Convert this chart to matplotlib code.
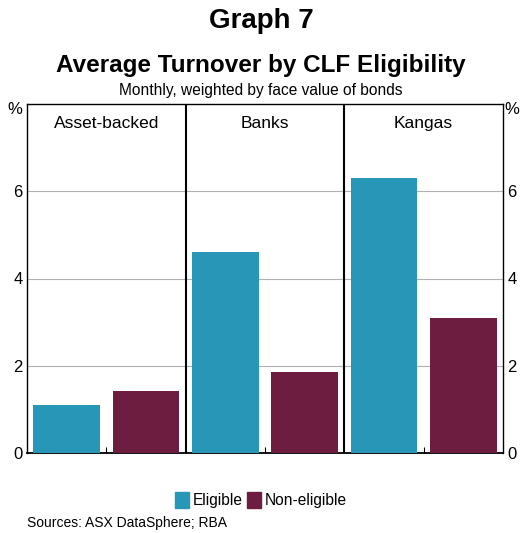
import numpy as np
import matplotlib.pyplot as plt
from matplotlib.patches import Patch

plt.rcParams['font.family'] = ['Liberation Sans', 'DejaVu Sans']

panels = ['Asset-backed', 'Banks', 'Kangas']
eligible = [1.1, 4.6, 6.3]
non_eligible = [1.42, 1.85, 3.1]
yticks = [0, 2, 4, 6]

teal = '#2896b6'
maroon = '#6c1d40'

fig = plt.figure(figsize=(5.22, 5.33), dpi=100)
ax = fig.add_axes([27 / 522, 80 / 533, 476 / 522, 349 / 533])

x = np.arange(len(panels)) * 2
w = 0.84
ax.bar(x + 0.5, eligible, width=w, color=teal, zorder=3)
ax.bar(x + 1.5, non_eligible, width=w, color=maroon, zorder=3)

ax.set_xlim(0, 6)
ax.set_ylim(0, 8)
for y in yticks[1:]:
    ax.axhline(y, color='#b0b0b0', lw=0.8, zorder=1)
for i in range(1, len(panels)):
    ax.axvline(2 * i, color='black', lw=1.5, zorder=4)
for i, name in enumerate(panels):
    ax.text(2 * i + 1, 7.55, name, ha='center', va='center', fontsize=12.5)

ax.set_xticks(x + 1)
ax.set_xticklabels([])
ax.tick_params(axis='x', direction='in', length=4, width=0.8)
ax.set_yticks(yticks)
ax.tick_params(axis='y', length=0, labelsize=12, pad=3,
               labelleft=True, labelright=True)
for s in ax.spines.values():
    s.set_linewidth(1)
ax.spines['bottom'].set_linewidth(1.3)

fig.text(15 / 522, 1 - 110 / 533, '%', ha='center', va='center', fontsize=12)
fig.text(512 / 522, 1 - 110 / 533, '%', ha='center', va='center', fontsize=12)

fig.text(0.5, 1 - 21 / 533, 'Graph 7', ha='center', va='center',
         fontsize=20, fontweight='bold')
fig.text(0.5, 1 - 66 / 533, 'Average Turnover by CLF Eligibility', ha='center',
         va='center', fontsize=17.5, fontweight='bold')
fig.text(0.5, 1 - 90 / 533, 'Monthly, weighted by face value of bonds',
         ha='center', va='center', fontsize=11.2)

handles = [Patch(color=teal, label='Eligible'),
           Patch(color=maroon, label='Non-eligible')]
fig.legend(handles=handles, loc='center', bbox_to_anchor=(0.5, 1 - 500 / 533),
           ncol=2, frameon=False, fontsize=11.2, handlelength=0.9,
           handleheight=1.2, handletextpad=0.2, columnspacing=0.3)

fig.text(27 / 522, 1 - 523 / 533, 'Sources: ASX DataSphere; RBA',
         ha='left', va='center', fontsize=10)

fig.savefig('out.png', dpi=100)
